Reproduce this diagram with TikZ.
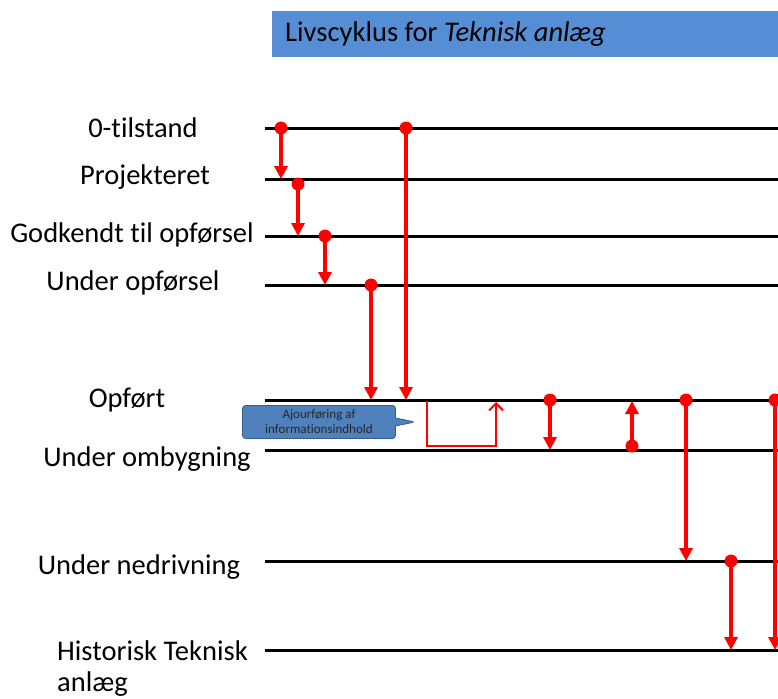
\documentclass[tikz,border=0pt]{standalone}
\usepackage{fontspec}
\setmainfont{Carlito}[Ligatures=NoCommon]
\usetikzlibrary{arrows.meta,shapes.callouts}
\definecolor{titleblue}{HTML}{558ED5}
\definecolor{callblue}{HTML}{4F81BD}
\definecolor{callborder}{HTML}{385D8A}
\tikzset{
  stateline/.style={line width=3pt, black},
  statelabel/.style={font=\fontsize{28.5}{34}\selectfont, inner sep=0pt, anchor=base},
  reddot/.style={circle, fill=red, inner sep=0pt, minimum size=13pt},
  redarrow/.style={red, line width=3.5pt, -{Triangle[length=13pt,width=13pt]}, shorten <=0pt},
  thinred/.style={red, line width=2pt, -{Straight Barb[length=7pt,width=14pt]}},
}
\begin{document}
\begin{tikzpicture}[x=1pt,y=-1pt]
\useasboundingbox (0,0) rectangle (778,698);
% title
\node[fill=titleblue, minimum width=506pt, minimum height=46pt, anchor=north west, inner sep=0pt] (title) at (272,11) {};
\node[anchor=west, font=\fontsize{28.5}{34}\selectfont, inner sep=0pt] (titletext) at (285,34) {Livscyklus for \textit{Teknisk anlæg}};
% state lines
\foreach \n/\y in {a/128, b/179, c/236, d/285, e/400, f/450, g/561, h/650}{
  \coordinate (\n L) at (265,\y);
  \coordinate (\n R) at (778,\y);
  \draw[stateline] (\n L) -- (\n R);
}
% labels
\node[statelabel] (la) at (143,137) {0-tilstand};
\node[statelabel] (lb) at (145,184) {Projekteret};
\node[statelabel] (lc) at (132,242) {Godkendt til opførsel};
\node[statelabel] (ld) at (133,290) {Under opførsel};
\node[statelabel] (le) at (127,407) {Opført};
\node[statelabel] (lf) at (147,466) {Under ombygning};
\node[statelabel] (lg) at (139,574) {Under nedrivning};
\node[statelabel, anchor=base west] (lh) at (57,660) {Historisk Teknisk};
\node[statelabel, anchor=base west] (lh2) at (57,691) {anlæg};
% red transitions
\node[reddot] (d1) at (281,128) {};
\coordinate (t1) at (281,179);
\draw[redarrow] (d1.center) -- (t1);
\node[reddot] (d2) at (298,184) {};
\coordinate (t2) at (298,236);
\draw[redarrow] (d2.center) -- (t2);
\node[reddot] (d3) at (325,236) {};
\coordinate (t3) at (325,285);
\draw[redarrow] (d3.center) -- (t3);
\node[reddot] (d4) at (371,285) {};
\coordinate (t4) at (371,400);
\draw[redarrow] (d4.center) -- (t4);
\node[reddot] (d5) at (406,128) {};
\coordinate (t5) at (406,400);
\draw[redarrow] (d5.center) -- (t5);
\node[reddot] (d7) at (550,400) {};
\coordinate (t7) at (550,450);
\draw[redarrow] (d7.center) -- (t7);
\node[reddot] (d8) at (632,446) {};
\coordinate (t8) at (632,401);
\draw[redarrow] (d8.center) -- (t8);
\node[reddot] (d9) at (686,400) {};
\coordinate (t9) at (686,561);
\draw[redarrow] (d9.center) -- (t9);
\node[reddot] (d10) at (731,561) {};
\coordinate (t10) at (731,650);
\draw[redarrow] (d10.center) -- (t10);
\node[reddot] (d11) at (775,400) {};
\coordinate (t11) at (775,650);
\draw[redarrow] (d11.center) -- (t11);
% update bracket
\coordinate (b1) at (427,401);
\coordinate (b2) at (496,402);
\draw[thinred] (b1) |- (496,446) -- (b2);
% callout
\node[rectangle callout, fill=callblue, draw=callborder, line width=0.8pt, rounded corners=3pt,
  minimum width=153pt, minimum height=33pt, inner sep=0pt,
  callout absolute pointer={(415,422)}, callout pointer width=8pt,
  align=center, font=\fontsize{13}{15}\selectfont, text=black!85] (call) at (319,422)
  {Ajourføring af\\informationsindhold};
\end{tikzpicture}
\end{document}
